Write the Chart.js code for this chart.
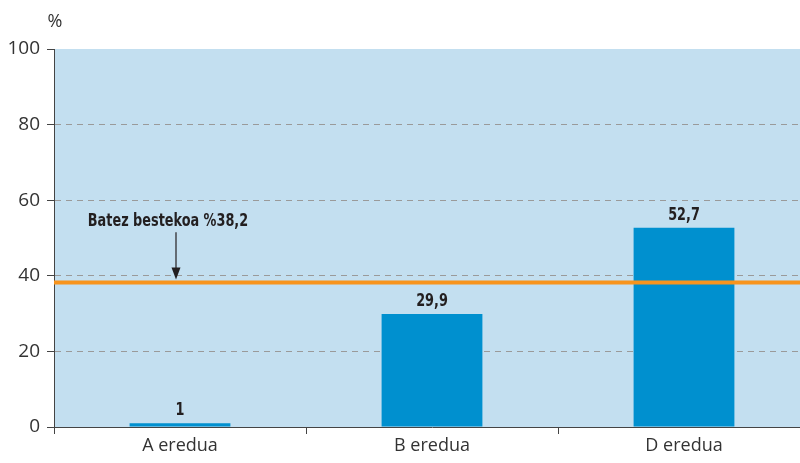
<!DOCTYPE html>
<html>
<head>
<meta charset="utf-8">
<script src="https://cdn.jsdelivr.net/npm/chart.js@4.4.1/dist/chart.umd.min.js"></script>
<style>
  html, body { margin: 0; padding: 0; background: #fff; overflow: hidden; }
  #wrap { width: 810px; height: 463px; }
</style>
</head>
<body>
<div id="wrap"><canvas id="chart"></canvas></div>
<script>
const categories = ['A eredua', 'B eredua', 'D eredua'];
const values = [1, 29.9, 52.7];
const average = 38.2;
const averageLabel = 'Batez bestekoa %38,2';
const yTicks = [0, 20, 40, 60, 80, 100];

const axisFont = "'Open Sans', 'Noto Sans', sans-serif";
const boldFont = "'DejaVu Sans Condensed', 'Liberation Sans Narrow', sans-serif";

// draw condensed bold text by squeezing horizontally
function narrowText(ctx, text, x, y, squeeze) {
    ctx.save();
    ctx.translate(x, y);
    ctx.scale(squeeze, 1);
    ctx.fillText(text, 0, 0);
    ctx.restore();
}

// Plot background, average line, arrow and bar labels
const extras = {
    id: 'extras',
    beforeDraw(chart) {
        const { ctx, chartArea: a } = chart;
        ctx.save();
        ctx.fillStyle = '#c3dff0';
        ctx.fillRect(a.left, a.top, a.right - a.left, a.bottom - a.top);
        ctx.restore();
    },
    afterDatasetsDraw(chart) {
        const { ctx, chartArea: a, scales } = chart;
        const y = scales.y;
        ctx.save();
        // average line
        const ya = y.getPixelForValue(average);
        ctx.strokeStyle = '#f7941d';
        ctx.lineWidth = 4;
        ctx.beginPath();
        ctx.moveTo(a.left, ya);
        ctx.lineTo(a.right, ya);
        ctx.stroke();

        // annotation text + arrow
        ctx.fillStyle = '#231f20';
        ctx.font = "bold 17px " + boldFont;
        ctx.textAlign = 'center';
        ctx.textBaseline = 'alphabetic';
        const ax = 176;
        narrowText(ctx, averageLabel, 168, y.getPixelForValue(53.2), 0.84);
        ctx.strokeStyle = '#231f20';
        ctx.lineWidth = 1.2;
        ctx.beginPath();
        ctx.moveTo(ax, y.getPixelForValue(51.5));
        ctx.lineTo(ax, ya - 10);
        ctx.stroke();
        ctx.beginPath();
        ctx.moveTo(ax - 4.5, ya - 15);
        ctx.lineTo(ax + 4.5, ya - 15);
        ctx.lineTo(ax, ya - 3);
        ctx.closePath();
        ctx.fill();

        // bar value labels
        const meta = chart.getDatasetMeta(0);
        ctx.font = "bold 17px " + boldFont;
        ctx.textBaseline = 'bottom';
        meta.data.forEach((bar, i) => {
            narrowText(ctx, String(values[i]).replace('.', ','), bar.x, bar.y - 4, 0.84);
        });

        // unit label
        ctx.font = "18px " + axisFont;
        ctx.fillStyle = '#333';
        ctx.textAlign = 'center';
        ctx.textBaseline = 'middle';
        ctx.fillText('%', 55, 22);
        ctx.restore();
    }
};

new Chart(document.getElementById('chart'), {
    type: 'bar',
    data: {
        labels: categories,
        datasets: [{
            data: values,
            backgroundColor: '#0090cf',
            barPercentage: 0.4,
            categoryPercentage: 1
        }]
    },
    options: {
        responsive: true,
        maintainAspectRatio: false,
        animation: false,
        layout: { padding: { top: 49, right: 0, left: 0, bottom: 0 } },
        plugins: { legend: { display: false }, tooltip: { enabled: false } },
        scales: {
            x: {
                offset: true,
                afterFit(s) { s.height = 36; },
                grid: {
                    offset: true,
                    drawOnChartArea: false,
                    tickLength: 7,
                    tickColor: '#444'
                },
                border: { color: '#444', width: 1 },
                ticks: {
                    color: '#333',
                    font: { family: axisFont, size: 18 },
                    padding: 1
                }
            },
            y: {
                min: 0,
                max: 100,
                afterFit(s) { s.width = 54; },
                afterBuildTicks(s) { s.ticks = yTicks.map(v => ({ value: v })); },
                grid: {
                    color: ctx => (ctx.tick && (ctx.tick.value === 0 || ctx.tick.value === 100)) ? 'rgba(0,0,0,0)' : '#9a9a9a',
                    tickBorderDash: [],
                    tickColor: '#444',
                    tickLength: 7
                },
                border: { color: '#444', width: 1, dash: [6, 5] },
                ticks: {
                    color: '#333',
                    font: { family: axisFont, size: 19 },
                    padding: 7
                }
            }
        }
    },
    plugins: [extras]
});
</script>
</body>
</html>
